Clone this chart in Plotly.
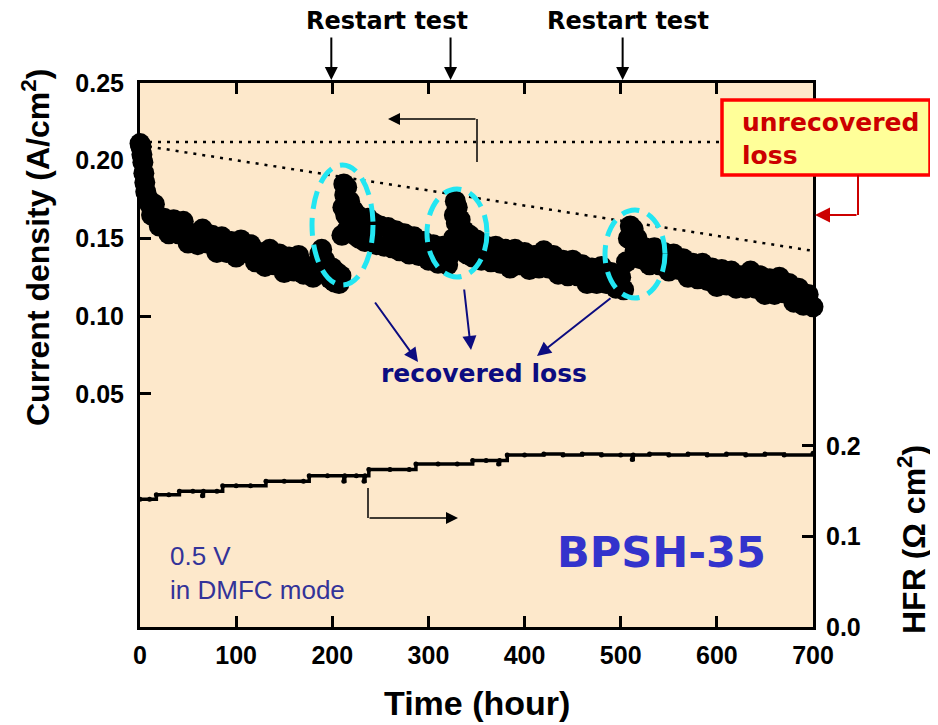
import plotly.graph_objects as go

# ---------------- data ----------------
cd_hours = [0, 1, 2, 3, 4, 5, 6, 8, 10, 12, 14,
            15, 20, 25, 30, 35, 40, 45, 50, 55, 60, 65, 70, 75, 80, 85, 90, 95, 100,
            105, 110, 115, 120, 125, 130, 135, 140, 145, 150, 155, 160, 165, 170, 175, 180,
            185, 187, 189, 192, 195, 198, 200, 202, 205, 207, 209,
            210, 211, 212, 213, 214, 215, 216, 218, 220, 222, 224, 226, 228, 231, 234, 237,
            240, 243, 246, 250, 254, 258, 262, 266, 270, 275, 280, 285, 290, 295, 300, 305,
            310, 315, 320, 323,
            326, 327, 328, 329, 330, 332, 333, 335, 337, 340, 343, 346,
            350, 355, 360, 365, 370, 375, 380, 385, 390, 395, 400, 405, 410, 415, 420, 425,
            430, 435, 440, 445, 450, 455, 460, 465, 470, 475, 480, 485, 490, 495, 500, 503,
            506, 508, 510, 511, 513, 515, 517, 520,
            525, 530, 535, 540, 545, 550, 555, 560, 565, 570, 575, 580, 585, 590, 595, 600,
            605, 610, 615, 620, 625, 630, 635, 640, 645, 650, 655, 660, 665, 670, 675, 680,
            685, 690, 695, 700, 702]
cd_values = [0.211, 0.209, 0.204, 0.199, 0.192, 0.186, 0.180, 0.176, 0.172, 0.165, 0.172,
             0.172, 0.158, 0.163, 0.153, 0.162, 0.153, 0.161, 0.147, 0.153, 0.146, 0.156,
             0.147, 0.152, 0.141, 0.151, 0.141, 0.148, 0.138,
             0.149, 0.141, 0.146, 0.135, 0.141, 0.132, 0.143, 0.133, 0.140, 0.128, 0.138,
             0.129, 0.139, 0.127, 0.132, 0.125,
             0.133, 0.140, 0.143, 0.136, 0.128, 0.124, 0.131, 0.122, 0.128, 0.121, 0.126,
             0.152, 0.170, 0.185, 0.178, 0.165, 0.183, 0.156, 0.174, 0.160, 0.168, 0.152,
             0.165, 0.150, 0.161, 0.148, 0.163,
             0.150, 0.160, 0.146, 0.158, 0.145, 0.157, 0.144, 0.155, 0.142, 0.153, 0.140,
             0.151, 0.139, 0.148, 0.136, 0.146,
             0.134, 0.145, 0.133, 0.140,
             0.150, 0.165, 0.174, 0.160, 0.170, 0.150, 0.162, 0.145, 0.155, 0.140, 0.152,
             0.138,
             0.149, 0.136, 0.145, 0.135, 0.145, 0.134, 0.143, 0.131, 0.143, 0.133, 0.141,
             0.130, 0.139, 0.131, 0.142, 0.131,
             0.139, 0.127, 0.136, 0.126, 0.136, 0.126, 0.133, 0.121, 0.131, 0.121, 0.132,
             0.121, 0.128, 0.118, 0.125, 0.117,
             0.135, 0.150, 0.158, 0.152, 0.156, 0.142, 0.150, 0.137,
             0.144, 0.133, 0.144, 0.133, 0.141, 0.129, 0.140, 0.130, 0.137, 0.125, 0.134,
             0.124, 0.134, 0.123, 0.131, 0.119,
             0.130, 0.120, 0.129, 0.118, 0.126, 0.118, 0.129, 0.118, 0.126, 0.114, 0.124,
             0.114, 0.125, 0.115, 0.121, 0.109,
             0.118, 0.107, 0.114, 0.106, 0.112]

hfr_hours = [0, 10, 17, 30, 41, 55, 65, 66, 80, 86, 100, 115, 131, 150, 170, 176,
             195, 212, 213, 225, 233, 234, 238, 260, 280, 287, 310, 330, 346, 360, 373,
             374, 382, 400, 420, 440, 460, 480, 500, 512, 513, 530, 550, 570, 590, 610,
             630, 650, 670, 700]
hfr_values = [0.141, 0.141, 0.146, 0.146, 0.150, 0.150, 0.145, 0.150, 0.150, 0.156,
              0.156, 0.156, 0.161, 0.161, 0.161, 0.167, 0.167, 0.161, 0.167, 0.167,
              0.161, 0.167, 0.174, 0.174, 0.174, 0.180, 0.180, 0.180, 0.184, 0.184,
              0.180, 0.184, 0.190, 0.190, 0.191, 0.190, 0.191, 0.190, 0.190, 0.185,
              0.190, 0.191, 0.190, 0.191, 0.190, 0.191, 0.190, 0.191, 0.190, 0.192]

x_ticks = [0, 100, 200, 300, 400, 500, 600, 700]
y_ticks = [0.05, 0.10, 0.15, 0.20, 0.25]
y_ticklabels = ["0.05", "0.10", "0.15", "0.20", "0.25"]
hfr_ticks = [0.0, 0.1, 0.2]
hfr_ticklabels = ["0.0", "0.1", "0.2"]
restart_hours = [199, 323, 502]

# ---------------- layout helpers ----------------
# page body has an 8px margin: the figure is drawn starting at screen (8, 8)
OFF = 8
W, H = 930, 717
L, R, T, B = 140, 813, 83, 627          # plot area in screen pixels


def px(x):
    return (x - L) / (R - L)


def py(y):
    return (B - y) / (B - T)


BOLD_SANS = "Liberation Sans, Arial, sans-serif"
VERDANA = "DejaVu Sans, Verdana, sans-serif"

fig = go.Figure()

fig.add_trace(go.Scatter(
    x=cd_hours, y=cd_values, mode="markers",
    marker=dict(size=21, color="black", line=dict(width=0)),
    cliponaxis=False, showlegend=False, yaxis="y"))

fig.add_trace(go.Scatter(
    x=hfr_hours, y=hfr_values, mode="lines+markers",
    line=dict(color="black", width=3.5, shape="hv"),
    marker=dict(size=5, color="black"),
    cliponaxis=False, showlegend=False, yaxis="y2"))

shapes = []
# dotted guide lines
shapes.append(dict(type="line", xref="x", yref="y", x0=0, y0=0.212, x1=700, y1=0.212,
                   line=dict(color="black", width=2.5, dash="3px,6px"), layer="above"))
shapes.append(dict(type="line", xref="x", yref="y", x0=0, y0=0.210, x1=700, y1=0.142,
                   line=dict(color="black", width=2.5, dash="3px,6px"), layer="above"))
# cyan dashed ellipses
for (x0, y0, x1, y1) in [(312, 165, 373, 285), (427, 189, 487, 277), (605, 210, 665, 298)]:
    shapes.append(dict(type="circle", xref="paper", yref="paper",
                       x0=px(x0), x1=px(x1), y0=py(y1), y1=py(y0),
                       line=dict(color="#22E6F2", width=5, dash="18px,9px"), layer="above"))
# left arrow vertical part
shapes.append(dict(type="line", xref="paper", yref="paper", x0=px(477), y0=py(162),
                   x1=px(477), y1=py(119), line=dict(color="black", width=1.5)))
# HFR arrow vertical part
shapes.append(dict(type="line", xref="paper", yref="paper", x0=px(368), y0=py(488),
                   x1=px(368), y1=py(518), line=dict(color="black", width=1.5)))
# unrecovered loss box and connector
shapes.append(dict(type="rect", xref="paper", yref="paper", x0=px(722), y0=py(175),
                   x1=px(930), y1=py(100), fillcolor="#FFFF99",
                   line=dict(color="#FF0000", width=3.5), layer="above"))
shapes.append(dict(type="line", xref="paper", yref="paper", x0=px(858), y0=py(175),
                   x1=px(858), y1=py(215), line=dict(color="#CC0000", width=2)))


def label(text, x, y, size, color="black", family=VERDANA, bold=True, xanchor="center",
          angle=0, align="center"):
    return dict(text=text, xref="paper", yref="paper", x=px(x), y=py(y),
                xanchor=xanchor, yanchor="middle", align=align, textangle=angle,
                showarrow=False,
                font=dict(family=family, size=size, color=color,
                          weight="bold" if bold else "normal"))


def arrow(hx, hy, tx, ty, color="black", width=2, size=1.3):
    return dict(text="", xref="paper", yref="paper", x=px(hx), y=py(hy),
                ax=tx - hx, ay=ty - hy, axref="pixel", ayref="pixel",
                showarrow=True, arrowhead=2, arrowsize=size, arrowwidth=width,
                arrowcolor=color)


ann = []
ann.append(label("Restart test", 387, 21, 24))
ann.append(label("Restart test", 628, 21, 24))
for h in restart_hours:
    ann.append(dict(text="", xref="x", yref="paper", x=h, y=py(80), ax=0, ay=-44,
                    showarrow=True, arrowhead=2, arrowsize=1.3, arrowwidth=2,
                    arrowcolor="black"))
ann.append(arrow(388, 119, 477, 119, width=1.5, size=1.6))
ann.append(arrow(458, 518, 368, 518, width=1.5, size=1.6))
NAVY = "#0C0C80"
for (hx, hy, tx, ty) in [(418, 362, 374, 301), (471, 350, 464, 288), (537, 356, 612, 297)]:
    ann.append(arrow(hx, hy, tx, ty, color=NAVY, width=2, size=1.4))
ann.append(label("recovered loss", 484, 373, 25, color=NAVY))
ann.append(label("unrecovered<br>loss", 740, 139, 25, color="#CC0000", xanchor="left",
                 align="left"))
ann.append(arrow(815, 215, 858, 215, color="#CC0000", width=2, size=1.5))
ann.append(label("BPSH-35", 661, 552, 43, color="#3333CC"))
ann.append(label("0.5 V<br>in DMFC mode", 168, 573, 26, color="#333399", family=BOLD_SANS,
                 bold=False, xanchor="left", align="left"))
ann.append(label("Current density (A/cm<sup>2</sup>)", 36, 248, 32, family=BOLD_SANS, angle=-90))
ann.append(label("Time (hour)", 477, 703, 34, family=BOLD_SANS))
ann.append(label("HFR (Ω cm<sup>2</sup>)", 912, 540, 32, family=BOLD_SANS, angle=-90))

tickfont = dict(family=BOLD_SANS, size=25, color="black", weight="bold")

fig.update_layout(
    width=W, height=H,
    margin=dict(l=L - OFF, r=W - (R - OFF), t=T - OFF, b=H - (B - OFF), pad=0,
                autoexpand=False),
    paper_bgcolor="white", plot_bgcolor="#FDE8CB",
    showlegend=False,
    xaxis=dict(range=[0, 700], tickvals=x_ticks, ticks="inside", ticklen=11, tickwidth=3,
               tickcolor="black", showline=True, linewidth=3, linecolor="black",
               mirror="ticks", showgrid=False, zeroline=False, tickfont=tickfont,
               ticklabelstandoff=4),
    yaxis=dict(range=[-0.1, 0.25], tickvals=y_ticks, ticktext=y_ticklabels, ticks="inside",
               ticklen=11, tickwidth=3, tickcolor="black", showline=True, linewidth=3,
               linecolor="black", mirror=True, showgrid=False, zeroline=False,
               tickfont=tickfont, ticklabelstandoff=8),
    yaxis2=dict(range=[0, 0.601], tickvals=hfr_ticks, ticktext=hfr_ticklabels,
                overlaying="y", side="right", ticks="inside", ticklen=11, tickwidth=3,
                tickcolor="black", showline=True, linewidth=3, linecolor="black",
                showgrid=False, zeroline=False, tickfont=tickfont, ticklabelstandoff=5),
    shapes=shapes, annotations=ann,
)

fig.write_html("out.html")
